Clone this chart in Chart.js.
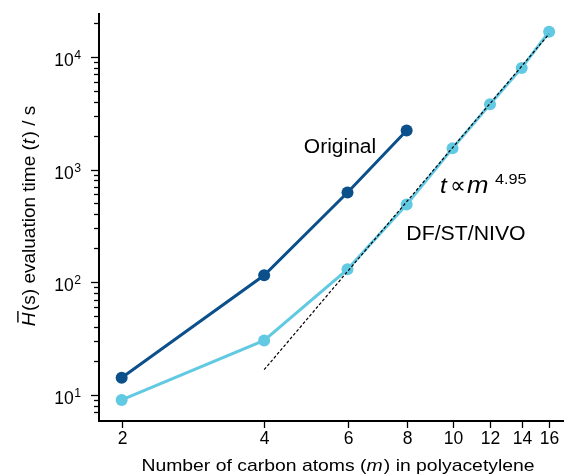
<!DOCTYPE html>
<html>
<head>
<meta charset="utf-8">
<script src="https://cdn.jsdelivr.net/npm/chart.js@4"></script>
<style>
  body { margin: 0; background: #fff; }
</style>
</head>
<body>
<canvas id="grafico" width="570" height="475"></canvas>
<script>
// datos
const originalM = [2, 4, 6, 8];
const originalTime = [14.2, 115, 624, 2220];
const nivoM = [2, 4, 6, 8, 10, 12, 14, 16];
const nivoTime = [9.0, 30.4, 130, 488, 1540, 3790, 7980, 16700];
const fitM = [4, 16];
const fitTime = [16.7, 16000];
const xTicks = [2, 4, 6, 8, 10, 12, 14, 16];
const yExponents = [1, 2, 3, 4];

const darkBlue = '#0b4f8b';
const lightBlue = '#62c9e3';
const fontFam = '"Liberation Sans", Arial, Helvetica, sans-serif';

function puntos(xs, ys) {
    return xs.map((x, i) => ({ x: x, y: ys[i] }));
}

// dibuja texto con partes en cursiva / superindice, sx = estirado horizontal
function textoRico(ctx, partes, x, y, size, align, sx) {
    sx = sx || 1;
    let total = 0;
    partes.forEach(p => {
        const s = p.sup ? size * 0.7 : size;
        ctx.font = (p.italic ? 'italic ' : '') + s + 'px ' + fontFam;
        p.w = ctx.measureText(p.text).width + (p.gap || 0);
        total += p.w;
    });
    total *= sx;
    const x0 = align === 'center' ? x - total / 2 : (align === 'right' ? x - total : x);
    ctx.save();
    ctx.translate(x0, y);
    ctx.scale(sx, 1);
    let cx = 0;
    partes.forEach(p => {
        const s = p.sup ? size * 0.7 : size;
        ctx.font = (p.italic ? 'italic ' : '') + s + 'px ' + fontFam;
        ctx.textAlign = 'left';
        ctx.textBaseline = 'alphabetic';
        ctx.fillText(p.text, cx, p.sup ? -size * 0.4 : 0);
        if (p.bar) {
            ctx.lineWidth = 1.4;
            ctx.beginPath();
            ctx.moveTo(cx + size * 0.2, -size * 0.9);
            ctx.lineTo(cx + p.w, -size * 0.9);
            ctx.stroke();
        }
        cx += p.w;
    });
    ctx.restore();
}

// un trozo de texto en posicion fija
function trozo(ctx, txt, x, y, font, sx) {
    ctx.save();
    ctx.translate(x, y);
    ctx.scale(sx, 1);
    ctx.font = font;
    ctx.textAlign = 'left';
    ctx.textBaseline = 'alphabetic';
    ctx.fillText(txt, 0, 0);
    ctx.restore();
}

const ejes = {
    id: 'ejes',
    afterDraw(chart) {
        const ctx = chart.ctx;
        const a = chart.chartArea;
        const xs = chart.scales.x;
        const ys = chart.scales.y;
        ctx.save();
        ctx.strokeStyle = '#000';
        ctx.fillStyle = '#000';

        // spines
        ctx.lineWidth = 2;
        ctx.beginPath();
        ctx.moveTo(a.left - 1, a.top);
        ctx.lineTo(a.left - 1, a.bottom + 2);
        ctx.lineTo(a.right, a.bottom + 2);
        ctx.stroke();

        // ticks y (log)
        ctx.lineWidth = 1.3;
        for (let k = 0; k <= 4; k++) {
            for (let j = 1; j <= 9; j++) {
                const v = j * Math.pow(10, k);
                if (v < ys.min || v > ys.max) continue;
                const py = Math.round(ys.getPixelForValue(v)) + 0.5;
                const len = j === 1 ? 7 : 4;
                ctx.beginPath();
                ctx.moveTo(a.left - 2, py);
                ctx.lineTo(a.left - 2 - len, py);
                ctx.stroke();
            }
        }
        yExponents.forEach(e => {
            const py = ys.getPixelForValue(Math.pow(10, e));
            textoRico(ctx, [{ text: '10', gap: 0.5 }, { text: String(e), sup: true }], 81, py + 9, 17.5, 'right');
        });

        // ticks x
        xTicks.forEach(m => {
            const px = Math.round(xs.getPixelForValue(m)) + 0.5;
            ctx.beginPath();
            ctx.moveTo(px, a.bottom + 3);
            ctx.lineTo(px, a.bottom + 9);
            ctx.stroke();
            textoRico(ctx, [{ text: String(m) }], px, 444, 17.5, 'center');
        });

        // titulos
        textoRico(ctx, [
            { text: 'Number of carbon atoms (' },
            { text: 'm', italic: true, gap: 1 },
            { text: ') in polyacetylene' }
        ], 338, 471, 17, 'center', 1.14);

        ctx.save();
        ctx.translate(35, (a.top + a.bottom) / 2);
        ctx.rotate(-Math.PI / 2);
        textoRico(ctx, [
            { text: 'H', italic: true, bar: true, gap: 1.5 },
            { text: '(s) evaluation time (' },
            { text: 't', italic: true, gap: 1.5 },
            { text: ') / s' }
        ], 0, 0, 19, 'center');
        ctx.restore();

        // anotaciones
        textoRico(ctx, [{ text: 'Original' }], 340, 153, 20, 'center', 1.05);
        textoRico(ctx, [{ text: 'DF/ST/NIVO' }], 466, 240, 19.5, 'center', 1.09);

        // t ∝ m^4.95
        trozo(ctx, 't', 440, 193, 'italic 22px ' + fontFam, 1.1);
        trozo(ctx, '\u221D', 450, 193, '23px "DejaVu Sans", ' + fontFam, 0.95);
        trozo(ctx, 'm', 467, 193, 'italic 23px ' + fontFam, 1.12);
        trozo(ctx, '4.95', 495, 184, '14.5px ' + fontFam, 1.12);

        ctx.restore();
    }
};

new Chart(document.getElementById('grafico'), {
    type: 'scatter',
    data: {
        datasets: [
            {
                label: 'fit',
                data: puntos(fitM, fitTime),
                showLine: true,
                borderColor: '#000',
                borderWidth: 1.2,
                borderDash: [3, 2],
                pointRadius: 0
            },
            {
                label: 'Original',
                data: puntos(originalM, originalTime),
                showLine: true,
                borderColor: darkBlue,
                backgroundColor: darkBlue,
                borderWidth: 3,
                pointRadius: 6,
                pointBorderWidth: 0
            },
            {
                label: 'DF/ST/NIVO',
                data: puntos(nivoM, nivoTime),
                showLine: true,
                borderColor: lightBlue,
                backgroundColor: lightBlue,
                borderWidth: 3,
                pointRadius: 6,
                pointBorderWidth: 0
            }
        ]
    },
    options: {
        responsive: false,
        animation: false,
        layout: { padding: { left: 100, right: 0, top: 13, bottom: 56 } },
        plugins: { legend: { display: false }, tooltip: { enabled: false } },
        scales: {
            x: { type: 'logarithmic', min: 1.8, max: 17.2, display: false },
            y: { type: 'logarithmic', min: 6.1, max: 24500, display: false }
        }
    },
    plugins: [ejes]
});
</script>
</body>
</html>
